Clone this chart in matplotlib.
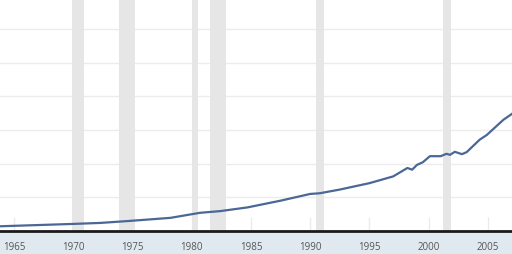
import matplotlib.pyplot as plt
import numpy as np

# --- Data (arbitrary units: 1 = one gridline step) ---
years = [1963.8, 1970.0, 1972.3, 1974.8, 1978.2, 1980.7, 1982.4, 1984.7,
         1987.5, 1990.0, 1990.8, 1992.5, 1995.0, 1997.0, 1998.2, 1998.6,
         1999.0, 1999.5, 2000.1, 2001.0, 2001.5, 2001.8, 2002.2, 2002.8,
         2003.2, 2004.3, 2004.9, 2006.3, 2007.0]
values = [0.14, 0.21, 0.24, 0.30, 0.39, 0.54, 0.59, 0.70,
          0.90, 1.10, 1.12, 1.23, 1.42, 1.62, 1.87, 1.82,
          1.96, 2.04, 2.22, 2.22, 2.29, 2.26, 2.35, 2.28,
          2.34, 2.71, 2.85, 3.30, 3.47]

# NBER recessions (start, end) in decimal years
rec_start = [1969.92, 1973.87, 1980.0, 1981.5, 1990.5, 2001.17]
rec_end = [1970.87, 1975.2, 1980.5, 1982.87, 1991.2, 2001.87]

tick_years = [1965, 1970, 1975, 1980, 1985, 1990, 1995, 2000, 2005]

# --- Plot ---
fig = plt.figure(figsize=(5.12, 2.55), dpi=100, facecolor="#e1e9f0")
ax = fig.add_axes([0, 23 / 255, 1, 232 / 255])
ax.set_facecolor("white")

for s, e in zip(rec_start, rec_end):
    ax.axvspan(s, e, color="#e6e6e6", lw=0, zorder=1)

ax.plot(years, values, color="#4a6796", lw=1.6, zorder=3)

ax.set_xlim(1963.82, 1963.82 + 512 / 11.85)
ax.set_ylim(0, 232 / 33.7)
ax.set_yticks(np.arange(1, 7))
ax.yaxis.grid(True, color="#ececec", lw=1, zorder=0)
ax.set_axisbelow(True)
ax.tick_params(axis="y", left=False, labelleft=False)

ax.set_xticks(tick_years)
ax.set_xticklabels([str(y) for y in tick_years], fontfamily="Open Sans",
                   fontsize=7, color="#555555")
ax.tick_params(axis="x", direction="in", length=10, width=1, color="#ebebeb",
               pad=7)

for side in ["top", "right", "left"]:
    ax.spines[side].set_visible(False)
ax.spines["bottom"].set_color("#1a1a1a")
ax.spines["bottom"].set_linewidth(2)
ax.spines["bottom"].set_zorder(4)

plt.savefig("out.png", dpi=100, facecolor=fig.get_facecolor())
